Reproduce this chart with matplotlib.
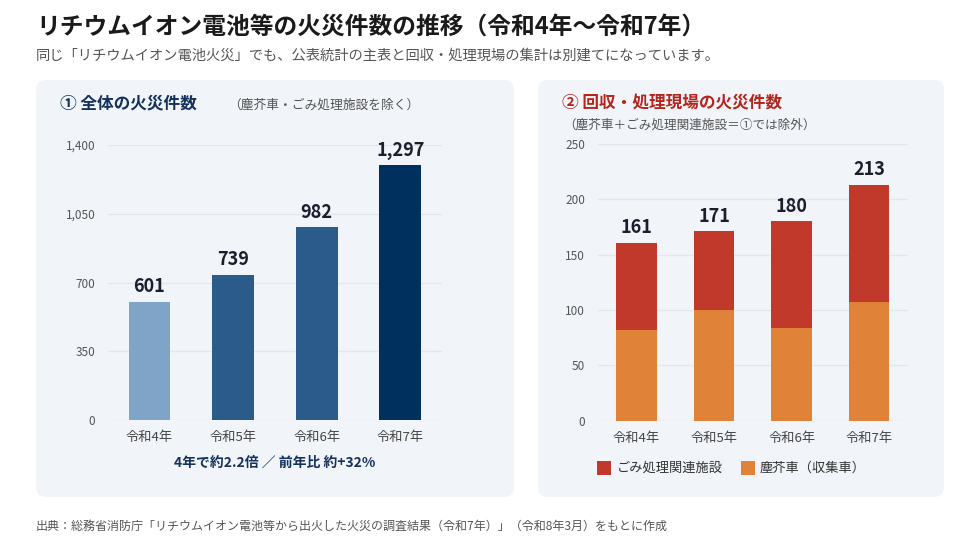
import matplotlib.pyplot as plt
from matplotlib.patches import FancyBboxPatch, Rectangle
from matplotlib.ticker import FuncFormatter

plt.rcParams['font.family'] = ['Noto Sans CJK JP', 'DejaVu Sans']

# Data
years = ['令和4年', '令和5年', '令和6年', '令和7年']
total_fires = [601, 739, 982, 1297]
total_colors = ['#7fa4c8', '#2b5b8b', '#2b5b8b', '#00305d']

garbage_truck = [82, 100, 84, 107]       # 塵芥車（収集車）
facility_total = [161, 171, 180, 213]   # stacked total
facility = [t - g for t, g in zip(facility_total, garbage_truck)]  # ごみ処理関連施設

W, H = 980, 552
fig = plt.figure(figsize=(W / 100, H / 100), dpi=100)
fig.patch.set_facecolor('white')

# background layer in pixel coords
bg = fig.add_axes([0, 0, 1, 1], zorder=0)
bg.set_xlim(0, W)
bg.set_ylim(H, 0)
bg.axis('off')

panel_color = '#f1f4f9'
for x0, x1 in [(36, 514), (538, 944)]:
    bg.add_patch(FancyBboxPatch((x0, 80), x1 - x0, 417,
                                boxstyle='round,pad=0,rounding_size=10',
                                facecolor=panel_color, edgecolor='none'))

# Titles
bg.text(36, 27, 'リチウムイオン電池等の火災件数の推移（令和4年〜令和7年）',
        fontsize=17.1, fontweight='bold', color='#1a1a1a', va='center')
bg.text(36, 56, '同じ「リチウムイオン電池火災」でも、公表統計の主表と回収・処理現場の集計は別建てになっています。',
        fontsize=10.3, color='#555555', va='center')

bg.text(60, 103, '① 全体の火災件数', fontsize=12, fontweight='bold',
        color='#14325c', va='center')
bg.text(228, 105, '（塵芥車・ごみ処理施設を除く）', fontsize=9.2,
        color='#555555', va='center')

bg.text(562, 103, '② 回収・処理現場の火災件数', fontsize=12, fontweight='bold',
        color='#b3261e', va='center')
bg.text(563, 125, '（塵芥車＋ごみ処理関連施設＝①では除外）', fontsize=9.1,
        color='#555555', va='center')

bg.text(275, 463, '4年で約2.2倍 ／ 前年比 約+32%', fontsize=10, fontweight='bold',
        color='#14325c', ha='center', va='center')

bg.text(36, 526, '出典：総務省消防庁「リチウムイオン電池等から出火した火災の調査結果（令和7年）」（令和8年3月）をもとに作成',
        fontsize=8.65, color='#555555', va='center')

# legend for right panel
bg.add_patch(Rectangle((597, 461), 14, 14, facecolor='#c0392b', edgecolor='none'))
bg.text(617, 468, 'ごみ処理関連施設', fontsize=9.5, color='#333333', va='center')
bg.add_patch(Rectangle((741, 461), 14, 14, facecolor='#e08238', edgecolor='none'))
bg.text(760, 468, '塵芥車（収集車）', fontsize=9.5, color='#333333', va='center')


def style_axis(ax):
    ax.set_facecolor('none')
    for s in ax.spines.values():
        s.set_visible(False)
    ax.grid(axis='y', color='#e2e6ed', linewidth=1)
    ax.set_axisbelow(True)
    ax.tick_params(axis='both', length=0)
    ax.tick_params(axis='y', labelsize=8.5, labelcolor='#555555', pad=9)
    ax.tick_params(axis='x', labelsize=9.5, labelcolor='#444444', pad=8)


# Left chart
ax1 = fig.add_axes([107.7 / W, 1 - 420 / H, 334.3 / W, 275 / H], zorder=1)
style_axis(ax1)
x = range(len(years))
ax1.bar(x, total_fires, width=0.5, color=total_colors)
ax1.set_xlim(-0.5, 3.5)
ax1.set_ylim(0, 1400)
ax1.set_yticks([0, 350, 700, 1050, 1400])
ax1.yaxis.set_major_formatter(FuncFormatter(lambda v, p: f'{int(v):,}'))
ax1.set_xticks(list(x))
ax1.set_xticklabels(years)
for i, v in enumerate(total_fires):
    ax1.annotate(f'{v:,}', (i, v), xytext=(0, 4), textcoords='offset points',
                 ha='center', va='bottom', fontsize=13, fontweight='bold',
                 color='#1a1f2b')

# Right chart
ax2 = fig.add_axes([597.7 / W, 1 - 420.7 / H, 310.3 / W, 276.7 / H], zorder=1)
style_axis(ax2)
ax2.bar(x, garbage_truck, width=0.52, color='#e08238')
ax2.bar(x, facility, width=0.52, bottom=garbage_truck, color='#c0392b')
ax2.set_xlim(-0.5, 3.5)
ax2.set_ylim(0, 250)
ax2.set_yticks([0, 50, 100, 150, 200, 250])
ax2.set_xticks(list(x))
ax2.set_xticklabels(years)
for i, v in enumerate(facility_total):
    ax2.annotate(f'{v}', (i, v), xytext=(0, 4), textcoords='offset points',
                 ha='center', va='bottom', fontsize=13, fontweight='bold',
                 color='#1a1f2b')

fig.savefig('out.png', dpi=100, facecolor='white')
